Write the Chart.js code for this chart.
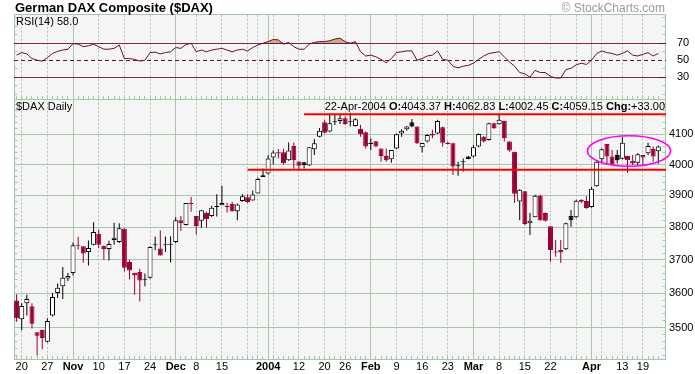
<!DOCTYPE html>
<html><head><meta charset="utf-8">
<script src="https://cdn.jsdelivr.net/npm/chart.js@4.4.1/dist/chart.umd.min.js"></script>
<style>html,body{margin:0;padding:0;background:#fff;}canvas{display:block;}</style>
</head><body>
<canvas id="c" width="695" height="374"></canvas>
<script>
// ---------------- DATA ----------------
const dates = [
'2003-10-17','2003-10-20','2003-10-21','2003-10-22','2003-10-23','2003-10-24','2003-10-27','2003-10-28','2003-10-29','2003-10-30','2003-10-31',
'2003-11-03','2003-11-04','2003-11-05','2003-11-06','2003-11-07','2003-11-10','2003-11-11','2003-11-12','2003-11-13','2003-11-14',
'2003-11-17','2003-11-18','2003-11-19','2003-11-20','2003-11-21','2003-11-24','2003-11-25','2003-11-26','2003-11-27','2003-11-28',
'2003-12-01','2003-12-02','2003-12-03','2003-12-04','2003-12-08','2003-12-09','2003-12-10','2003-12-11','2003-12-12',
'2003-12-15','2003-12-16','2003-12-17','2003-12-18','2003-12-19','2003-12-22','2003-12-23','2003-12-29','2003-12-30',
'2004-01-02','2004-01-05','2004-01-06','2004-01-07','2004-01-08','2004-01-09','2004-01-12','2004-01-13','2004-01-14','2004-01-15','2004-01-16',
'2004-01-20','2004-01-21','2004-01-22','2004-01-23','2004-01-26','2004-01-27','2004-01-28','2004-01-29','2004-01-30',
'2004-02-02','2004-02-03','2004-02-04','2004-02-05','2004-02-06','2004-02-09','2004-02-10','2004-02-11','2004-02-12','2004-02-13',
'2004-02-16','2004-02-17','2004-02-18','2004-02-19','2004-02-20','2004-02-23','2004-02-24','2004-02-25','2004-02-26','2004-02-27',
'2004-03-01','2004-03-02','2004-03-03','2004-03-04','2004-03-05','2004-03-08','2004-03-09','2004-03-10','2004-03-11','2004-03-12',
'2004-03-15','2004-03-16','2004-03-17','2004-03-18','2004-03-19','2004-03-22','2004-03-23','2004-03-24','2004-03-25','2004-03-26',
'2004-03-29','2004-03-30','2004-03-31','2004-04-01','2004-04-02','2004-04-05','2004-04-06','2004-04-07','2004-04-08',
'2004-04-13','2004-04-14','2004-04-15','2004-04-16','2004-04-19','2004-04-20','2004-04-21','2004-04-22'];

const open = [3578,3524,3571,3562,3487,3494,3460,3535,3601,3621,3644,
3660,3746,3741,3724,3746,3780,3743,3733,3760,3754,
3795,3693,3661,3663,3640,3646,3744,3734,3744,3746,
3754,3822,3807,3876,3835,3820,3845,3835,3863,
3869,3866,3873,3850,3882,3894,3884,3906,3959,
3971,4023,4040,4040,4014,4061,4010,4007,3997,4050,4092,
4141,4109,4141,4145,4154,4141,4128,4119,4107,
4068,4077,4053,4028,4017,4053,4103,4117,4141,4126,
4057,4076,4101,4103,4124,4072,4070,3994,4007,4026,
4026,4059,4092,4081,4137,4134,4146,4076,4042,3881,
3913,3812,3831,3899,3844,3803,3722,3730,3732,3835,
3831,3886,3882,3863,3929,4017,4068,4026,4031,
4019,4029,4012,4006,4031,4037,4051,4043.37];
const high = [3597,3571,3596,3571,3487,3494,3527,3601,3629,3678,3660,
3753,3770,3741,3759,3815,3793,3743,3758,3814,3812,
3797,3700,3661,3673,3659,3741,3770,3790,3771,3772,
3831,3835,3876,3895,3835,3853,3848,3867,3904,
3931,3877,3880,3874,3904,3904,3916,3958,3987,
4030,4047,4051,4052,4073,4073,4010,4009,4057,4084,4121,
4149,4165,4165,4165,4160,4173,4154,4132,4109,
4087,4077,4053,4053,4048,4103,4117,4128,4152,4126,
4072,4100,4115,4149,4126,4076,4072,4009,4020,4028,
4064,4103,4094,4139,4139,4165,4146,4078,4042,3920,
3913,3844,3902,3902,3846,3803,3760,3760,3814,3854,
3886,3888,3897,3927,4011,4053,4068,4048,4048,
4090,4029,4031,4037,4031,4072,4059,4062.83];
const low = [3517,3493,3535,3498,3421,3439,3458,3532,3586,3583,3636,
3653,3731,3692,3683,3744,3736,3700,3698,3746,3751,
3665,3641,3596,3576,3621,3643,3729,3713,3724,3692,
3751,3788,3805,3848,3777,3798,3798,3832,3833,
3869,3846,3849,3822,3880,3876,3884,3906,3959,
3967,4000,4020,4000,4012,3986,3981,3987,3995,4031,4090,
4103,4107,4131,4135,4132,4126,4126,4092,4053,
4048,4057,4009,4009,4006,4050,4092,4112,4124,4068,
4039,4073,4087,4101,4059,4066,3966,3963,3977,4017,
4023,4057,4073,4079,4118,4132,4076,4042,3876,3822,
3806,3776,3831,3820,3818,3694,3709,3690,3730,3801,
3828,3876,3858,3861,3928,4003,3998,4001,4003,
4017,3973,3998,3998,3998,4031,4009,4002.45];
const close = [3527,3563,3583,3511,3477,3471,3519,3589,3616,3646,3651,
3744,3743,3719,3736,3785,3746,3733,3748,3767,3797,
3676,3668,3653,3638,3642,3739,3746,3713,3746,3748,
3822,3812,3876,3873,3804,3853,3825,3861,3866,
3876,3863,3850,3871,3897,3879,3903,3953,3965,
4020,4039,4036,4004,4046,4014,3996,3998,4057,4070,4112,
4105,4137,4144,4154,4135,4143,4151,4100,4059,
4072,4059,4028,4014,4048,4100,4112,4126,4126,4070,
4071,4098,4096,4145,4072,4068,3993,3996,4009,4018,
4057,4101,4076,4137,4120,4149,4087,4046,3905,3918,
3810,3820,3899,3822,3820,3730,3724,3722,3812,3822,
3883,3880,3860,3921,4009,4050,4026,4001,4014,
4072,4014,4003,4034,4023,4061,4026.15,4059.15];
const priorClose = 3570;

const rsi = [56,59,57.5,52,50,49,53,58,60.5,62,63,
69.5,69,66,67,69,66,63,63,64,68,
52,52,51,49,50,59,59.5,57.5,59,60,
65,64,68.5,70,60,62,60,62,63,
64,62,60,62,63,61,65,68,70,
72,74.5,74,69,71,66,63,63,69,71,72,
72,73,75,76,72,70,72,60,55,
56,54,51,47,52,59,60,61,61,50,
52,55,56,61,51,50,43,41,43,44,
46.5,51,55,58,59,60,54,48,43,35.5,
34,30,38,35.5,35.5,31,29,29,39,40.5,
44.5,46.5,45,50,58,61,59,58,56,
58,61,56,55,57,59,55,58];

const priceTicks = [3500,3600,3700,3800,3900,4000,4100];
const priceMinorTicks = [3420,3440,3460,3480,3520,3540,3560,3580,3620,3640,3660,3680,3720,3740,3760,3780,
3820,3840,3860,3880,3920,3940,3960,3980,4020,4040,4060,4080,4120,4140,4160,4180,4200];
const rsiTicks = [70,50,30];
const rsiMinorTicks = [10,20,40,60,80,90,100];
const rsiLevels = [70,50,30];
const monthStarts = ['2003-11-03','2003-12-01','2004-01-02','2004-02-02','2004-03-01','2004-04-01'];
const weekStarts = ['2003-10-20','2003-10-27','2003-11-10','2003-11-17','2003-11-24','2003-12-08','2003-12-15','2003-12-22','2003-12-29',
'2004-01-05','2004-01-12','2004-01-20','2004-01-26','2004-02-09','2004-02-16','2004-02-23','2004-03-08','2004-03-15','2004-03-22','2004-03-29',
'2004-04-05','2004-04-13','2004-04-19'];
const tickLabels = {'2003-10-20':'20','2003-10-27':'27','2003-11-03':'Nov','2003-11-10':'10','2003-11-17':'17','2003-11-24':'24',
'2003-12-01':'Dec','2003-12-08':'8','2003-12-15':'15','2004-01-02':'2004','2004-01-12':'12','2004-01-20':'20','2004-01-26':'26',
'2004-02-02':'Feb','2004-02-09':'9','2004-02-16':'16','2004-02-23':'23','2004-03-01':'Mar','2004-03-08':'8','2004-03-15':'15',
'2004-03-22':'22','2004-04-01':'Apr','2004-04-13':'13','2004-04-19':'19'};
const boldTickLabels = ['Nov','Dec','2004','Feb','Mar','Apr'];
const hLines = [{start:'2004-01-13', value:4168},{start:'2003-12-22', value:3983}];
const ellipseMark = {x0:111.2, x1:127.4, y0:3994, y1:4095};

// ---------------- STYLE ----------------
const FONT = '"Liberation Sans", Arial, Helvetica, sans-serif';
const GRID = '#a8c6a8';
const PLOT_BG = '#f5f5f5';
const RED = '#990033';
const MAROON = '#6a0f35';
const TAN = '#c4ae82';

const labels = dates.concat(['']);
const idx = d => dates.indexOf(d);
const candleColor = close.map((c, i) => c >= (i ? close[i - 1] : priorClose) ? '#000000' : RED);
const filled = close.map((c, i) => c < open[i]);

const decor = {
  id: 'decor',
  beforeDraw(chart) {
    const {ctx, chartArea: ca} = chart;
    ctx.save();
    ctx.fillStyle = '#ffffff';
    ctx.fillRect(0, 0, chart.width, chart.height);
    ctx.fillStyle = PLOT_BG;
    ctx.fillRect(ca.left, ca.top, ca.right - ca.left, ca.bottom - ca.top);
    ctx.restore();
  },
  beforeDatasetsDraw(chart) {
    const {ctx, chartArea: ca, scales: {x, yRsi, yPrice}} = chart;
    ctx.save();
    ctx.lineWidth = 1;
    ctx.strokeStyle = GRID;
    const vline = (d, dash) => {
      const px = Math.floor(x.getPixelForValue(idx(d))) + 0.5;
      ctx.setLineDash(dash);
      ctx.beginPath(); ctx.moveTo(px, ca.top); ctx.lineTo(px, ca.bottom); ctx.stroke();
    };
    weekStarts.forEach(d => vline(d, [2, 2]));
    monthStarts.forEach(d => vline(d, []));
    ctx.setLineDash([]);
    const L = Math.floor(ca.left) + 0.5, R = Math.floor(ca.right) - 0.5;
    [yRsi, yPrice].forEach(s => {
      ctx.strokeRect(L, Math.floor(s.top) + 0.5, R - L, Math.floor(s.bottom) - Math.floor(s.top));
      dates.forEach((d, i) => {
        const px = Math.floor(x.getPixelForValue(i)) + 0.5;
        const b = Math.floor(s.bottom);
        ctx.beginPath(); ctx.moveTo(px, b); ctx.lineTo(px, b - 3); ctx.stroke();
      });
    });
    // minor ticks on the left and right edges
    const edgeTicks = (s, vals) => vals.forEach(v => {
      const py = Math.floor(s.getPixelForValue(v)) + 0.5;
      if (py <= s.top + 1 || py >= s.bottom - 1) return;
      ctx.beginPath(); ctx.moveTo(L, py); ctx.lineTo(L + 3, py); ctx.moveTo(R, py); ctx.lineTo(R - 3, py); ctx.stroke();
    });
    edgeTicks(yRsi, rsiMinorTicks);
    edgeTicks(yPrice, priceMinorTicks);
    ctx.strokeStyle = MAROON;
    rsiLevels.forEach(v => {
      const py = Math.floor(yRsi.getPixelForValue(v)) + 0.5;
      ctx.setLineDash(v === 50 ? [4, 3] : []);
      ctx.beginPath(); ctx.moveTo(ca.left, py); ctx.lineTo(ca.right, py); ctx.stroke();
    });
    ctx.restore();
  },
  afterDatasetsDraw(chart) {
    const {ctx, chartArea: ca, scales: {x, yPrice}} = chart;
    ctx.save();
    ctx.strokeStyle = '#ff0000';
    ctx.lineWidth = 2;
    hLines.forEach(l => {
      const py = yPrice.getPixelForValue(l.value);
      ctx.beginPath(); ctx.moveTo(x.getPixelForValue(idx(l.start)), py); ctx.lineTo(ca.right, py); ctx.stroke();
    });
    const ex0 = x.getPixelForValue(ellipseMark.x0), ex1 = x.getPixelForValue(ellipseMark.x1);
    const ey0 = yPrice.getPixelForValue(ellipseMark.y1), ey1 = yPrice.getPixelForValue(ellipseMark.y0);
    ctx.strokeStyle = '#ff00ff';
    ctx.lineWidth = 1.6;
    ctx.beginPath();
    ctx.ellipse((ex0 + ex1) / 2, (ey0 + ey1) / 2, (ex1 - ex0) / 2, (ey1 - ey0) / 2, 0, 0, Math.PI * 2);
    ctx.stroke();
    ctx.restore();
  },
  afterDraw(chart) {
    const {ctx, chartArea: ca, scales: {x, yRsi, yPrice}} = chart;
    const n = close.length - 1;
    ctx.save();
    ctx.fillStyle = '#000';
    ctx.textBaseline = 'alphabetic';
    ctx.font = 'bold 13px ' + FONT;
    ctx.textAlign = 'left';
    ctx.fillText('German DAX Composite ($DAX)', 15, 12);
    ctx.font = '12px ' + FONT;
    ctx.fillStyle = '#999999';
    ctx.textAlign = 'right';
    ctx.fillText('\u00A9 StockCharts.com', 665, 12);
    ctx.fillStyle = '#000';
    ctx.textAlign = 'left';
    ctx.font = '11px ' + FONT;
    ctx.fillText('RSI(14) ' + rsi[n].toFixed(1), 16, yRsi.top + 10);
    ctx.fillText('$DAX Daily', 16, yPrice.top + 10);
    const d = new Date(dates[n] + 'T00:00:00');
    const mon = ['Jan','Feb','Mar','Apr','May','Jun','Jul','Aug','Sep','Oct','Nov','Dec'][d.getMonth()];
    const chg = close[n] - close[n - 1];
    const parts = [[d.getDate() + '-' + mon + '-' + d.getFullYear() + ' ', false], ['O:', true], [open[n].toFixed(2) + ' ', false],
      ['H:', true], [high[n].toFixed(2) + ' ', false], ['L:', true], [low[n].toFixed(2) + ' ', false],
      ['C:', true], [close[n].toFixed(2) + ' ', false], ['Chg:', true], [(chg >= 0 ? '+' : '') + chg.toFixed(2), false]];
    let w = 0;
    parts.forEach(p => { ctx.font = (p[1] ? 'bold ' : '') + '11px ' + FONT; w += ctx.measureText(p[0]).width; });
    let px = 665 - w;
    parts.forEach(p => { ctx.font = (p[1] ? 'bold ' : '') + '11px ' + FONT; ctx.fillText(p[0], px, yPrice.top + 10); px += ctx.measureText(p[0]).width; });
    ctx.textAlign = 'center';
    dates.forEach((dd, i) => {
      const t = tickLabels[dd];
      if (!t) return;
      ctx.font = (boldTickLabels.includes(t) ? 'bold ' : '') + '11px ' + FONT;
      ctx.fillText(t, x.getPixelForValue(i), ca.bottom + 11);
    });
    ctx.restore();
  }
};

const tickFont = {family: FONT, size: 11};
new Chart(document.getElementById('c'), {
  data: {
    labels: labels,
    datasets: [
      {type: 'bar', yAxisID: 'yPrice', order: 3, grouped: false, barThickness: 1, inflateAmount: 0,
        data: dates.map((d, i) => [low[i], high[i]]), backgroundColor: candleColor, borderWidth: 0},
      {type: 'bar', yAxisID: 'yPrice', order: 2, grouped: false, barThickness: 5, inflateAmount: 0, minBarLength: 1,
        data: dates.map((d, i) => [Math.min(open[i], close[i]), Math.max(open[i], close[i])]),
        backgroundColor: candleColor.map((c, i) => filled[i] ? c : '#ffffff'), borderColor: candleColor,
        borderWidth: 1, borderSkipped: false},
      {type: 'line', yAxisID: 'yRsi', order: 1, data: rsi, borderColor: MAROON, borderWidth: 1, pointRadius: 0, tension: 0,
        fill: {target: {value: 70}, above: TAN, below: 'rgba(0,0,0,0)'}},
      {type: 'line', yAxisID: 'yRsi', order: 4, data: rsi, borderColor: 'rgba(0,0,0,0)', borderWidth: 0, pointRadius: 0, tension: 0,
        fill: {target: {value: 30}, above: 'rgba(0,0,0,0)', below: TAN}}
    ]
  },
  options: {
    responsive: false, animation: false, devicePixelRatio: 1,
    layout: {padding: {left: 14, top: 14.7, right: 0, bottom: 0}},
    plugins: {legend: {display: false}, tooltip: {enabled: false}},
    scales: {
      x: {type: 'category', offset: true, grid: {display: false}, border: {display: false},
        afterFit: s => { s.height = 14.7; },
        ticks: {display: false}},
      yRsi: {type: 'linear', position: 'right', stack: 'panels', stackWeight: 84.8, min: 3.7, max: 103.7,
        afterBuildTicks: s => { s.ticks = rsiTicks.map(v => ({value: v})); },
        afterFit: s => { s.width = 29; },
        grid: {display: false}, border: {display: false},
        ticks: {font: tickFont, color: '#000', padding: 3, callback: v => String(v)}},
      yPrice: {type: 'logarithmic', position: 'right', stack: 'panels', stackWeight: 259.8, min: 3410.7, max: 4218.4,
        afterBuildTicks: s => { s.ticks = priceTicks.map(v => ({value: v})); },
        afterFit: s => { s.width = 29; },
        grid: {color: GRID, lineWidth: 1, drawTicks: false}, border: {display: false},
        ticks: {font: tickFont, color: '#000', padding: 3, callback: v => String(v)}}
    }
  },
  plugins: [decor]
});
</script>
</body></html>
